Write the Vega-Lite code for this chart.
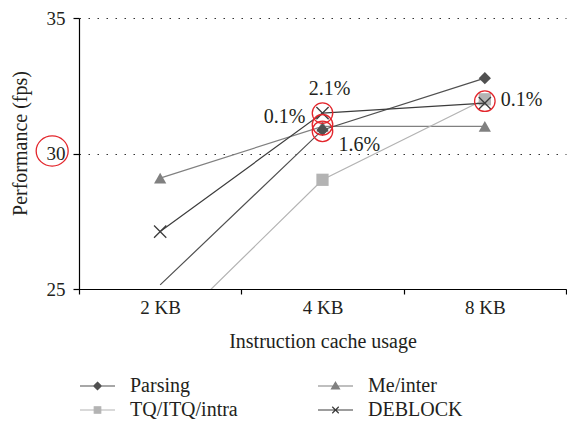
{
  "$schema": "https://vega.github.io/schema/vega-lite/v6.json",
  "width": 487,
  "height": 271,
  "autosize": {"type": "none"},
  "padding": {"left": 79, "top": 18, "right": 1, "bottom": 133},
  "config": {
    "font": "Liberation Serif",
    "view": {"stroke": null},
    "axis": {
      "labelFont": "Liberation Serif",
      "titleFont": "Liberation Serif",
      "labelFontSize": 19,
      "titleFontSize": 20,
      "titleFontWeight": "normal",
      "labelColor": "#231f20",
      "titleColor": "#231f20",
      "domainColor": "#000000",
      "tickColor": "#000000",
      "domainWidth": 1.2,
      "tickWidth": 1.2,
      "tickSize": 5
    },
    "legend": {
      "orient": "none",
      "direction": "vertical",
      "legendX": -4,
      "legendY": 358,
      "columns": 2,
      "columnPadding": 75,
      "rowPadding": 4,
      "padding": 0,
      "symbolSize": 100,
      "labelOffset": 35,
      "labelFontSize": 20,
      "labelFont": "Liberation Serif",
      "labelColor": "#231f20",
      "symbolStrokeWidth": 1.2,
      "symbolOpacity": 1
    }
  },
  "datasets": {
    "perf": [
      {"size": "2 KB", "series": "Parsing", "value": 25.15},
      {"size": "4 KB", "series": "Parsing", "value": 30.87},
      {"size": "8 KB", "series": "Parsing", "value": 32.78},
      {"size": "2 KB", "series": "TQ/ITQ/intra", "value": 23.15},
      {"size": "4 KB", "series": "TQ/ITQ/intra", "value": 29.03},
      {"size": "8 KB", "series": "TQ/ITQ/intra", "value": 32.0},
      {"size": "2 KB", "series": "Me/inter", "value": 29.09},
      {"size": "4 KB", "series": "Me/inter", "value": 31.0},
      {"size": "8 KB", "series": "Me/inter", "value": 31.0},
      {"size": "2 KB", "series": "DEBLOCK", "value": 27.12},
      {"size": "4 KB", "series": "DEBLOCK", "value": 31.49},
      {"size": "8 KB", "series": "DEBLOCK", "value": 31.86}
    ],
    "circles": [
      {"size": "4 KB", "value": 31.49},
      {"size": "4 KB", "value": 31.06},
      {"size": "4 KB", "value": 30.82},
      {"size": "8 KB", "value": 31.93}
    ],
    "axisCircle": [{"size": "2 KB", "value": 30}],
    "labelsRight": [{"size": "4 KB", "value": 31.35, "label": "0.1%"}],
    "labelsCenter": [{"size": "4 KB", "value": 32.39, "label": "2.1%"}],
    "labelsLeft": [
      {"size": "4 KB", "value": 30.32, "label": "1.6%"},
      {"size": "8 KB", "value": 31.98, "label": "0.1%"}
    ]
  },
  "data": {"name": "perf"},
  "encoding": {
    "x": {
      "field": "size", "type": "nominal", "sort": ["2 KB", "4 KB", "8 KB"],
      "scale": {"type": "band", "domain": ["2 KB", "4 KB", "8 KB"], "paddingInner": 0, "paddingOuter": 0},
      "axis": {"title": "Instruction cache usage", "labelAngle": 0, "tickBand": "extent", "labelPadding": 4, "titlePadding": 14, "grid": false}
    },
    "y": {
      "field": "value", "type": "quantitative",
      "scale": {"domain": [25, 35], "nice": false, "zero": false},
      "axis": {"title": "Performance (fps)", "values": [25, 30, 35], "tickSize": 6, "labelPadding": 8, "titlePadding": 16, "titleY": 125, "grid": true, "gridDash": [1.5, 7.5], "gridColor": "#333333", "gridWidth": 1.2}
    }
  },
  "layer": [
    {
      "transform": [{"filter": "datum.series === 'Me/inter'"}],
      "layer": [
        {"mark": {"type": "line", "clip": true, "strokeWidth": 1.2, "color": "#808080"}},
        {"mark": {"type": "point", "shape": "triangle-up", "filled": true, "size": 150, "color": "#808080", "opacity": 1, "clip": true}}
      ]
    },
    {
      "transform": [{"filter": "datum.series === 'TQ/ITQ/intra'"}],
      "layer": [
        {"mark": {"type": "line", "clip": true, "strokeWidth": 1.2, "color": "#b3b3b3"}},
        {"transform": [{"filter": "datum.value >= 25.5"}], "mark": {"type": "point", "shape": "square", "filled": true, "size": 150, "color": "#b3b3b3", "opacity": 1, "clip": true}}
      ]
    },
    {
      "transform": [{"filter": "datum.series === 'Parsing'"}],
      "layer": [
        {"mark": {"type": "line", "clip": true, "strokeWidth": 1.2, "color": "#505050"}},
        {"transform": [{"filter": "datum.value >= 25.5"}], "mark": {"type": "point", "shape": "diamond", "filled": true, "size": 150, "color": "#505050", "opacity": 1, "clip": true}}
      ]
    },
    {
      "transform": [{"filter": "datum.series === 'DEBLOCK'"}],
      "layer": [
        {"mark": {"type": "line", "clip": true, "strokeWidth": 1.2, "color": "#3c3c3c"}},
        {"mark": {"type": "point", "shape": "M-1,-1L1,1M-1,1L1,-1", "filled": false, "size": 150, "strokeWidth": 1.3, "color": "#3c3c3c", "opacity": 1, "clip": true}}
      ]
    },
    {
      "transform": [{"filter": "false"}],
      "mark": {"type": "point", "filled": true, "opacity": 1, "strokeWidth": 1.2},
      "encoding": {
        "color": {
          "field": "series", "type": "nominal", "legend": {"title": null},
          "scale": {"domain": ["Parsing", "TQ/ITQ/intra", "Me/inter", "DEBLOCK"], "range": ["#505050", "#b3b3b3", "#808080", "#3c3c3c"]}
        },
        "stroke": {
          "field": "series", "type": "nominal", "legend": {"title": null},
          "scale": {"domain": ["Parsing", "TQ/ITQ/intra", "Me/inter", "DEBLOCK"], "range": ["#505050", "#b3b3b3", "#808080", "#3c3c3c"]}
        },
        "shape": {
          "field": "series", "type": "nominal", "legend": {"title": null},
          "scale": {"domain": ["Parsing", "TQ/ITQ/intra", "Me/inter", "DEBLOCK"], "range": [
            "M-1,0H6M2.5,-0.75L3.25,0L2.5,0.75L1.75,0Z",
            "M-1,0H6M1.85,-0.65H3.15V0.65H1.85Z",
            "M-1,0H6M2.5,-0.75L3.3,0.6L1.7,0.6Z",
            "M-1,0H6M1.85,-0.65L3.15,0.65M1.85,0.65L3.15,-0.65"
          ]}
        }
      }
    },
    {
      "data": {"name": "circles"},
      "mark": {"type": "point", "shape": "circle", "filled": false, "stroke": "#e3262c", "strokeWidth": 1.3, "size": 420, "opacity": 1}
    },
    {
      "data": {"name": "axisCircle"},
      "mark": {"type": "point", "shape": "M-1,0A1,0.94 0 1,0 1,0A1,0.94 0 1,0 -1,0", "filled": false, "stroke": "#e3262c", "strokeWidth": 1.3, "size": 1024, "opacity": 1, "xOffset": -108, "yOffset": -2.5}
    },
    {
      "data": {"name": "labelsRight"},
      "mark": {"type": "text", "align": "right", "baseline": "middle", "dx": -17, "fontSize": 20, "color": "#231f20"},
      "encoding": {"text": {"field": "label"}}
    },
    {
      "data": {"name": "labelsCenter"},
      "mark": {"type": "text", "align": "center", "baseline": "middle", "dx": 7, "fontSize": 20, "color": "#231f20"},
      "encoding": {"text": {"field": "label"}}
    },
    {
      "data": {"name": "labelsLeft"},
      "mark": {"type": "text", "align": "left", "baseline": "middle", "dx": 16, "fontSize": 20, "color": "#231f20"},
      "encoding": {"text": {"field": "label"}}
    }
  ]
}
